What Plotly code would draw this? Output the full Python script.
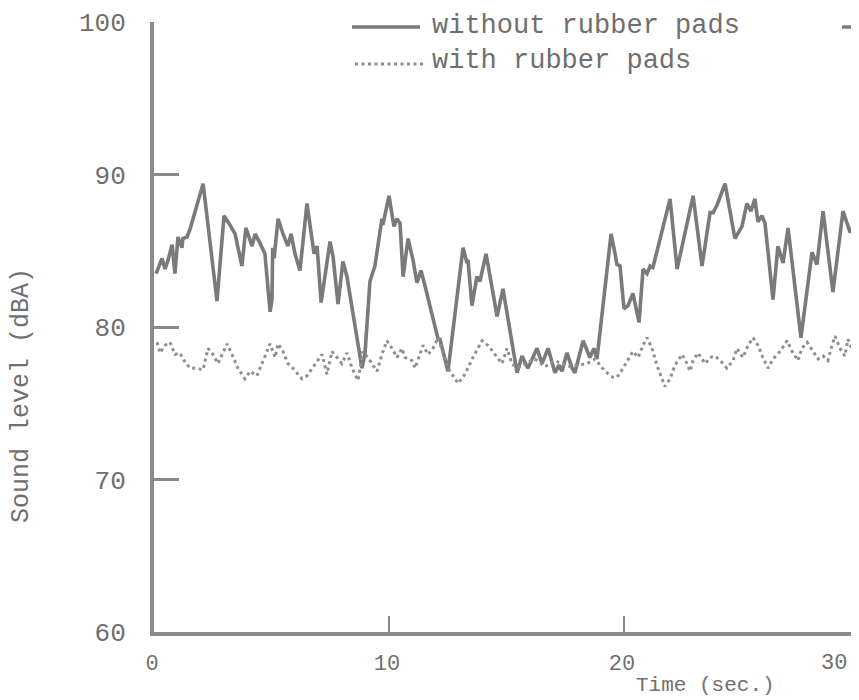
import plotly.graph_objects as go

# Without rubber pads (solid line)
t_without = [0.09, 0.34, 0.47, 0.60, 0.77, 0.89, 1.02, 1.19, 1.23, 1.40, 1.53, 2.09, 2.68, 2.98, 3.23,
             3.45, 3.74, 3.91, 4.17, 4.30, 4.51, 4.72, 4.94, 5.02, 5.05, 5.11, 5.28, 5.49, 5.70, 5.83,
             6.00, 6.21, 6.51, 6.81, 6.94, 7.11, 7.49, 7.62, 7.83, 8.04, 8.21, 8.85, 8.98, 9.19, 9.40,
             9.70, 9.74, 10.00, 10.21, 10.34, 10.47, 10.60, 10.81, 11.02, 11.19, 11.36, 11.53, 12.09,
             12.17, 12.51, 13.15, 13.32, 13.36, 13.53, 13.74, 13.87, 14.13, 14.60, 14.85, 15.45, 15.66,
             15.91, 16.30, 16.51, 16.77, 17.06, 17.23, 17.36, 17.57, 17.79, 17.91, 18.26, 18.55, 18.72,
             18.85, 19.45, 19.62, 19.70, 19.83, 20.00, 20.17, 20.38, 20.64, 20.81, 20.98, 21.11, 21.23,
             21.96, 22.26, 22.94, 23.32, 23.66, 23.79, 23.96, 24.30, 24.72, 25.02, 25.23, 25.40, 25.57,
             25.70, 25.87, 26.00, 26.34, 26.55, 26.77, 26.98, 27.53, 28.00, 28.21, 28.47, 28.89, 29.32,
             29.62, 29.83, 30.00]
db_without = [83.5, 84.5, 83.8, 84.4, 85.4, 83.5, 85.9, 85.2, 85.8, 85.9, 86.4, 89.4, 81.7, 87.3, 86.7,
              86.1, 84.0, 86.5, 85.3, 86.1, 85.5, 84.8, 81.0, 81.8, 85.2, 84.5, 87.1, 86.1, 85.3, 86.1,
              84.8, 83.7, 88.1, 84.8, 85.3, 81.6, 85.6, 84.6, 81.5, 84.3, 83.3, 77.3, 78.3, 83.0, 84.0,
              87.1, 86.7, 88.6, 86.6, 87.1, 86.8, 83.3, 85.8, 84.4, 82.9, 83.7, 82.7, 79.2,
              79.2, 77.1, 85.2, 84.2, 84.4, 81.4, 83.3, 83.0, 84.8, 80.7, 82.5, 77.0, 78.1,
              77.3, 78.6, 77.6, 78.6, 77.0, 77.5, 77.1, 78.3, 77.3, 77.0, 79.1, 78.0, 78.6,
              77.9, 86.1, 84.8, 84.1, 84.0, 81.2, 81.4, 82.2, 80.3, 83.8, 83.5, 84.0, 83.9,
              88.4, 83.8, 88.6, 84.0, 87.5, 87.5, 88.0, 89.4, 85.8, 86.6, 88.1, 87.6, 88.4,
              86.9, 87.3, 86.8, 81.8, 85.3, 84.2, 86.5, 79.3, 84.9, 84.1, 87.6, 82.3, 87.6,
              86.2, 86.9, 85.5]

# With rubber pads (dotted line)
t_with = [0.13, 0.26, 0.47, 0.68, 0.89, 1.11, 1.23, 1.53, 1.74, 2.09, 2.30, 2.51, 2.72, 3.11, 3.32,
          3.57, 3.87, 4.09, 4.38, 4.64, 4.94, 5.15, 5.28, 5.49, 5.70, 5.91, 6.30, 6.51, 6.94, 7.15,
          7.36, 7.57, 7.79, 8.00, 8.21, 8.43, 8.68, 8.89, 9.19, 9.49, 9.70, 9.91, 10.13, 10.34, 10.55,
          10.68, 10.98, 11.11, 11.45, 11.66, 11.87, 12.09, 12.30, 12.51, 12.94, 13.23, 13.57, 13.96,
          14.21, 14.51, 14.81, 15.02, 15.23, 15.45, 15.79, 16.21, 16.64, 17.06, 17.62, 18.04, 18.43,
          18.77, 19.19, 19.53, 19.70, 19.96, 20.38, 20.60, 20.81, 20.98, 21.19, 21.40, 21.74, 21.96,
          22.17, 22.47, 22.68, 22.81, 22.94, 23.15, 23.45, 23.66, 23.87, 24.09, 24.38, 24.64, 24.81,
          25.06, 25.28, 25.49, 25.70, 25.91, 26.13, 26.34, 26.64, 26.94, 27.15, 27.40, 27.57, 27.79,
          28.04, 28.26, 28.47, 28.68, 28.85, 28.98, 29.19, 29.40, 29.53, 29.74, 29.96]
db_with = [79.0, 78.3, 78.8, 79.0, 78.2, 78.3, 77.9, 77.3, 77.3, 77.2, 78.6, 78.2, 77.6, 78.9, 78.2,
           77.3, 76.6, 77.1, 76.8, 77.8, 78.9, 78.0, 78.9, 78.4, 77.6, 77.3, 76.6, 76.8, 77.8, 78.2,
           76.9, 78.4, 78.0, 77.6, 78.3, 77.3, 76.5, 78.4, 77.8, 77.1, 78.2, 79.1, 78.6, 78.0, 78.6,
           78.0, 77.8, 77.3, 78.8, 78.2, 78.6, 79.3, 78.3, 77.3, 76.3, 76.9, 78.0, 79.1,
           78.8, 78.2, 77.6, 78.6, 77.6, 77.3, 77.6, 77.9, 77.4, 77.8, 77.4, 77.5, 77.6,
           77.9, 77.1, 76.7, 76.7, 77.3, 78.4, 78.0, 78.8, 79.3, 78.6, 77.5, 76.1, 76.6,
           77.5, 78.2, 77.6, 77.1, 77.8, 78.3, 77.6, 78.0, 78.1, 77.8, 77.3, 77.8, 78.6,
           78.0, 78.8, 79.3, 78.8, 78.0, 77.3, 77.9, 78.4, 79.1, 78.4, 77.8, 78.6, 79.0,
           78.4, 77.9, 78.1, 77.8, 78.8, 79.4, 78.6, 78.1, 79.2, 78.4, 77.5]

x_ticks = [0, 10, 20, 30]
y_ticks = [60, 70, 80, 90, 100]
legend_labels = ["without rubber pads", "with rubber pads"]
x_title = "Time (sec.)"
y_title = "Sound level (dBA)"

FONT = "Liberation Mono, Courier New, monospace"
TXT = "#6f6f6f"
AX = "#8a8a8a"

fig = go.Figure()
fig.add_trace(go.Scatter(x=t_without, y=db_without, mode="lines", name=legend_labels[0],
                         line=dict(color="#7a7a7a", width=3.6)))
fig.add_trace(go.Scatter(x=t_with, y=db_with, mode="lines", name=legend_labels[1],
                         line=dict(color="#8e8e8e", width=3, dash="3px,3.5px")))

# The page body adds an 8 px offset, so the figure is 8 px smaller and margins are shifted.
fig.update_layout(
    width=851, height=692,
    margin=dict(l=146, r=0, t=14, b=68),
    paper_bgcolor="white", plot_bgcolor="white",
    showlegend=False,
    font=dict(family=FONT, color=TXT),
)
# Last tick sits on the cropped right edge; its label is placed just inside the edge below.
fig.update_xaxes(range=[0, 30.0], tickvals=x_ticks[:-1], ticks="inside", ticklen=16, tickwidth=2,
                 tickcolor=AX, showline=True, linewidth=4, linecolor=AX, showgrid=False,
                 zeroline=False, tickfont=dict(size=22, family=FONT, color=TXT),
                 ticklabelstandoff=8, ticklabelshift=-2, automargin=False)
fig.update_yaxes(range=[60, 100], tickvals=y_ticks, ticks="inside", ticklen=25, tickwidth=3,
                 tickcolor=AX, showline=True, linewidth=4, linecolor=AX, showgrid=False,
                 zeroline=False, tickfont=dict(size=26, family=FONT, color=TXT),
                 ticklabelstandoff=19, automargin=False)

# Helpers: page pixel -> paper coordinates of the plot area (page 154..859 x 22..632)
def px_x(p):
    return (p - 154) / 705

def px_y(p):
    return (632 - p) / 610

fig.add_annotation(text=str(x_ticks[-1]), xref="x", yref="paper", x=x_ticks[-1], y=px_y(663),
                   showarrow=False, xanchor="right", yanchor="middle", xshift=-10,
                   font=dict(size=22, family=FONT, color=TXT))

# Axis titles
fig.add_annotation(text=x_title, xref="paper", yref="paper", x=px_x(705), y=px_y(685),
                   showarrow=False, font=dict(size=21, family=FONT, color=TXT),
                   xanchor="center", yanchor="middle")
fig.add_annotation(text=y_title, xref="paper", yref="paper", x=px_x(22), y=px_y(396),
                   showarrow=False, textangle=-90, font=dict(size=25, family=FONT, color=TXT),
                   xanchor="center", yanchor="middle")

# Legend drawn at the top
fig.add_shape(type="line", xref="paper", yref="paper", x0=px_x(352), x1=px_x(420),
              y0=px_y(27), y1=px_y(27), line=dict(color="#7a7a7a", width=3.4))
fig.add_shape(type="line", xref="paper", yref="paper", x0=px_x(355), x1=px_x(425),
              y0=px_y(64), y1=px_y(64), line=dict(color="#8e8e8e", width=3, dash="3px,3.5px"))
fig.add_shape(type="line", xref="paper", yref="paper", x0=px_x(842), x1=px_x(859),
              y0=px_y(27), y1=px_y(27), line=dict(color="#7a7a7a", width=3.4))
fig.add_annotation(text=legend_labels[0], xref="paper", yref="paper", x=px_x(430), y=px_y(26),
                   showarrow=False, xanchor="left", yanchor="middle",
                   font=dict(size=27, family=FONT, color=TXT))
fig.add_annotation(text=legend_labels[1], xref="paper", yref="paper", x=px_x(430), y=px_y(61),
                   showarrow=False, xanchor="left", yanchor="middle",
                   font=dict(size=27, family=FONT, color=TXT))

fig.write_html("out.html")
